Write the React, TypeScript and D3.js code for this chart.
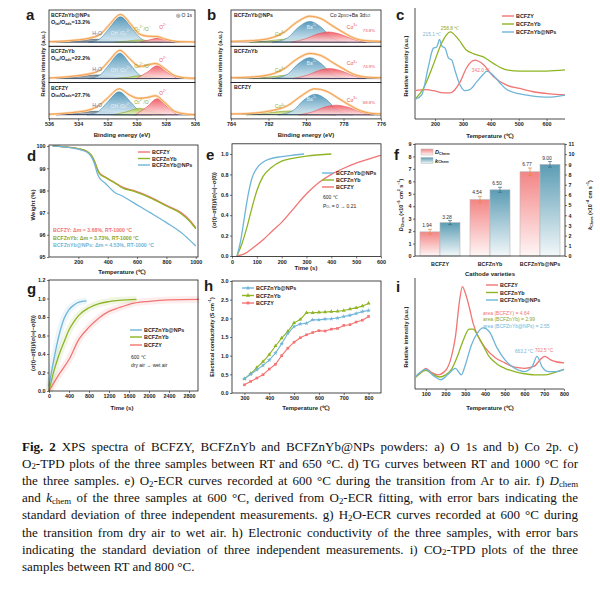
import React, { useEffect, useRef } from "react";
import * as d3 from "d3";

type Pt = [number, number];

const RED = "#f27474";
const GREEN = "#8fb423";
const BLUE = "#6fb5d8";
const INK = "#1c1c1c";
const FONT = "'Liberation Sans', Arial, sans-serif";
const SERIF = "'Liberation Serif', 'Times New Roman', serif";

// ---- a) O 1s XPS (rows top to bottom) ----
const aNames = ["BCFZnYb@NPs", "BCFZnYb", "BCFZY"];
const aRatio = ["13.2%", "22.2%", "27.7%"];
const aTicks = [536, 534, 532, 530, 528, 526];
const aH2O: Pt[][] = [
  [[535.5, 0], [534.5, 0.03], [533.5, 0.08], [532.8, 0.1], [532, 0.08], [531, 0.03], [530, 0]],
  [[535.5, 0], [534.5, 0.04], [533.5, 0.09], [532.7, 0.12], [532, 0.09], [531, 0.03], [530, 0]],
  [[535.5, 0], [534.5, 0.04], [533.5, 0.09], [532.8, 0.12], [532, 0.09], [531, 0.03], [530, 0]],
];
const aOH: Pt[][] = [
  [[533.3, 0], [532.5, 0.12], [531.9, 0.45], [531.1, 0.84], [530.3, 0.45], [529.7, 0.12], [529, 0]],
  [[533.3, 0], [532.5, 0.12], [531.9, 0.45], [531.15, 0.84], [530.4, 0.45], [529.8, 0.12], [529, 0]],
  [[533.4, 0], [532.6, 0.12], [532, 0.42], [531.2, 0.76], [530.4, 0.42], [529.8, 0.12], [529, 0]],
];
const aPer: Pt[][] = [
  [[531.5, 0], [530.6, 0.04], [529.8, 0.08], [529, 0.04], [528.2, 0]],
  [[531.5, 0], [530.5, 0.05], [529.7, 0.1], [528.9, 0.05], [528.2, 0]],
  [[531.6, 0], [530.7, 0.1], [529.8, 0.22], [528.9, 0.1], [528.1, 0]],
];
const aLat: Pt[][] = [
  [[529.8, 0], [529.2, 0.07], [528.6, 0.13], [528, 0.07], [527.4, 0]],
  [[530, 0], [529.3, 0.2], [528.6, 0.42], [527.9, 0.2], [527.2, 0]],
  [[530.1, 0], [529.3, 0.26], [528.6, 0.53], [527.9, 0.26], [527.2, 0]],
];
const aEnv: Pt[][] = [
  [[536, 0.02], [535, 0.04], [534, 0.08], [533.2, 0.14], [532.5, 0.26], [531.9, 0.56], [531.1, 0.92], [530.4, 0.6], [529.8, 0.27], [529.2, 0.2], [528.6, 0.19], [528, 0.1], [527.3, 0.03], [526, 0.01]],
  [[536, 0.02], [535, 0.05], [534, 0.1], [533.2, 0.16], [532.5, 0.28], [531.9, 0.58], [531.15, 0.93], [530.4, 0.62], [529.8, 0.4], [529.3, 0.44], [528.7, 0.5], [528.1, 0.34], [527.4, 0.1], [526.5, 0.02], [526, 0.01]],
  [[536, 0.02], [535, 0.05], [534, 0.1], [533.2, 0.17], [532.6, 0.3], [532, 0.55], [531.2, 0.86], [530.5, 0.66], [529.9, 0.55], [529.3, 0.57], [528.7, 0.63], [528.1, 0.42], [527.4, 0.12], [526.5, 0.02], [526, 0.01]],
];

// ---- b) Co 2p XPS ----
const bTicks = [784, 782, 780, 778, 776];
const bCo3Pct = ["73.8%", "74.9%", "68.8%"];
const bCo4: Pt[][] = [
  [[783, 0], [782, 0.05], [781.2, 0.1], [780.5, 0.12], [779.8, 0.08], [779, 0.03], [778.2, 0]],
  [[783, 0], [782, 0.05], [781.3, 0.1], [780.7, 0.12], [780, 0.08], [779.2, 0.03], [778.4, 0]],
  [[783.2, 0], [782.2, 0.05], [781.4, 0.11], [780.75, 0.13], [780, 0.08], [779.2, 0.03], [778.4, 0]],
];
const bBa: Pt[][] = [
  [[781.8, 0], [781, 0.14], [780.4, 0.5], [779.8, 0.69], [779.2, 0.5], [778.6, 0.14], [777.8, 0]],
  [[781.8, 0], [781, 0.14], [780.4, 0.5], [779.8, 0.69], [779.2, 0.5], [778.6, 0.14], [777.8, 0]],
  [[781.5, 0], [780.7, 0.14], [780.1, 0.5], [779.5, 0.68], [778.9, 0.5], [778.3, 0.14], [777.5, 0]],
];
const bCo3: Pt[][] = [
  [[780.8, 0], [780, 0.12], [779.4, 0.27], [778.8, 0.34], [778.2, 0.27], [777.5, 0.1], [776.8, 0]],
  [[780.7, 0], [779.9, 0.12], [779.3, 0.27], [778.75, 0.33], [778.2, 0.27], [777.5, 0.1], [776.8, 0]],
  [[780.4, 0], [779.6, 0.11], [779, 0.26], [778.4, 0.32], [777.8, 0.26], [777.1, 0.1], [776.4, 0]],
];
const bEnv: Pt[][] = [
  [[784, 0.03], [783, 0.05], [782, 0.12], [781.2, 0.32], [780.5, 0.66], [779.8, 0.86], [779.2, 0.78], [778.6, 0.55], [778, 0.32], [777.4, 0.13], [776.8, 0.05], [776, 0.03]],
  [[784, 0.03], [783, 0.05], [782, 0.12], [781.2, 0.31], [780.5, 0.64], [779.8, 0.83], [779.2, 0.76], [778.6, 0.54], [778, 0.32], [777.4, 0.13], [776.8, 0.05], [776, 0.03]],
  [[784, 0.03], [783, 0.05], [782, 0.12], [781, 0.3], [780.2, 0.65], [779.55, 0.86], [778.9, 0.78], [778.3, 0.56], [777.7, 0.33], [777.1, 0.14], [776.5, 0.05], [776, 0.03]],
];

// ---- c) O2-TPD ----
const cRed: Pt[] = [[128, 0.26], [170, 0.27], [194, 0.26], [230, 0.24], [254, 0.24], [290, 0.34], [313, 0.47], [343, 0.54], [373, 0.5], [409, 0.39], [457, 0.31], [504, 0.28], [552, 0.25], [612, 0.23], [666, 0.22]];
const cGreen: Pt[] = [[128, 0.18], [158, 0.28], [194, 0.5], [224, 0.7], [254, 0.8], [284, 0.73], [313, 0.63], [337, 0.6], [373, 0.57], [409, 0.51], [457, 0.45], [504, 0.44], [600, 0.44], [666, 0.45]];
const cBlue: Pt[] = [[128, 0.18], [152, 0.22], [176, 0.48], [194, 0.65], [206, 0.66], [216, 0.73], [224, 0.67], [236, 0.65], [248, 0.56], [260, 0.54], [272, 0.44], [290, 0.31], [307, 0.26], [325, 0.27], [349, 0.34], [373, 0.41], [385, 0.44], [409, 0.4], [433, 0.33], [457, 0.27], [504, 0.23], [552, 0.21], [600, 0.2], [666, 0.22]];
const cTicks = [200, 300, 400, 500, 600];

// ---- d) TG ----
const dRed: Pt[] = [[25, 100], [100, 99.97], [200, 99.88], [260, 99.75], [290, 99.55], [310, 99.3], [330, 98.95], [345, 98.78], [380, 98.62], [450, 98.35], [500, 98.15], [575, 98.0], [690, 97.7], [800, 97.33], [900, 97.0], [960, 96.65], [1000, 96.32]];
const dGreen: Pt[] = [[25, 100], [100, 99.97], [200, 99.88], [260, 99.76], [290, 99.58], [310, 99.32], [330, 98.95], [345, 98.75], [380, 98.6], [450, 98.33], [500, 98.12], [575, 97.97], [690, 97.67], [800, 97.3], [900, 96.95], [960, 96.6], [1000, 96.27]];
const dBlue: Pt[] = [[25, 100], [100, 99.97], [200, 99.86], [260, 99.72], [290, 99.5], [310, 99.2], [330, 98.75], [345, 98.55], [380, 98.35], [450, 97.9], [500, 97.75], [575, 97.45], [690, 97.0], [800, 96.55], [900, 96.1], [960, 95.75], [1000, 95.5]];
const dLoss = ["3.68%", "3.73%", "4.53%"];

// ---- e) O2-ECR ----
const eBlue: Pt[] = [[20, 0], [35, 0.15], [50, 0.38], [65, 0.6], [80, 0.76], [100, 0.86], [125, 0.92], [150, 0.95], [200, 0.975], [250, 0.99], [290, 1.0]];
const eGreen: Pt[] = [[20, 0], [40, 0.12], [60, 0.28], [80, 0.47], [100, 0.64], [125, 0.78], [160, 0.87], [200, 0.93], [250, 0.96], [300, 0.98], [400, 1.0]];
const eRed: Pt[] = [[20, 0], [50, 0.02], [90, 0.09], [130, 0.17], [160, 0.24], [200, 0.33], [250, 0.47], [300, 0.61], [350, 0.72], [400, 0.8], [450, 0.86], [500, 0.91], [550, 0.95], [600, 0.99]];

// ---- f) Dchem / kchem ----
const fCats = ["BCFZY", "BCFZnYb", "BCFZnYb@NPs"];
const fD = [1.94, 4.54, 6.77];
const fDErr = [0.2, 0.25, 0.3];
const fK = [3.28, 6.5, 9.0];
const fKErr = [0.2, 0.25, 0.28];

// ---- g) H2O-ECR ----
const gBlue: Pt[] = [[0, 0.05], [100, 0.35], [200, 0.6], [300, 0.78], [400, 0.88], [500, 0.93], [600, 0.96], [750, 0.975]];
const gGreen: Pt[] = [[0, 0], [100, 0.22], [200, 0.39], [300, 0.53], [400, 0.66], [500, 0.75], [600, 0.82], [800, 0.9], [1000, 0.945], [1200, 0.967], [1400, 0.98], [1750, 0.99]];
const gRed: Pt[] = [[0, 0], [200, 0.18], [400, 0.34], [600, 0.56], [800, 0.69], [1000, 0.79], [1200, 0.86], [1400, 0.9], [1700, 0.95], [2000, 0.97], [2400, 0.985], [3000, 0.99]];

// ---- h) conductivity ----
const hT = [300, 325, 350, 375, 400, 425, 450, 475, 500, 525, 550, 575, 600, 625, 650, 675, 700, 725, 750, 775, 800];
const hBlue = [0.38, 0.5, 0.62, 0.74, 0.88, 1.07, 1.32, 1.6, 1.78, 1.85, 1.87, 1.96, 1.96, 1.98, 1.99, 2.01, 2.05, 2.08, 2.13, 2.18, 2.21];
const hGreen = [0.38, 0.52, 0.68, 0.84, 1.03, 1.26, 1.47, 1.65, 1.88, 1.97, 2.15, 2.15, 2.16, 2.17, 2.18, 2.19, 2.21, 2.25, 2.28, 2.33, 2.4];
const hRed = [0.22, 0.31, 0.4, 0.49, 0.64, 0.77, 1.0, 1.2, 1.36, 1.48, 1.56, 1.62, 1.67, 1.66, 1.71, 1.73, 1.81, 1.83, 1.9, 1.95, 2.05];

// ---- i) CO2-TPD ----
const iRed: Pt[] = [[45, 0.11], [75, 0.15], [100, 0.19], [130, 0.15], [160, 0.13], [200, 0.17], [230, 0.3], [250, 0.48], [270, 0.8], [285, 0.94], [300, 0.88], [320, 0.75], [340, 0.6], [360, 0.5], [400, 0.38], [450, 0.29], [500, 0.24], [550, 0.2], [600, 0.19], [650, 0.21], [680, 0.27], [703, 0.3], [730, 0.27], [760, 0.25], [800, 0.24]];
const iGreen: Pt[] = [[45, 0.1], [100, 0.17], [130, 0.14], [170, 0.11], [200, 0.13], [230, 0.18], [260, 0.3], [290, 0.45], [320, 0.55], [340, 0.55], [360, 0.5], [390, 0.4], [420, 0.3], [460, 0.23], [500, 0.19], [550, 0.16], [600, 0.14], [650, 0.13], [700, 0.13], [750, 0.15], [800, 0.18]];
const iBlue: Pt[] = [[45, 0.11], [100, 0.18], [140, 0.12], [175, 0.085], [210, 0.13], [250, 0.19], [280, 0.13], [300, 0.22], [330, 0.4], [360, 0.51], [390, 0.56], [420, 0.53], [460, 0.38], [500, 0.27], [550, 0.19], [600, 0.16], [640, 0.21], [663, 0.3], [690, 0.2], [720, 0.16], [760, 0.16], [800, 0.18]];
const iArea = ["4.64", "2.99", "2.55"];

type Seg = [string, string?, boolean?];

const caption: Seg[][] = [
  [["Fig. 2", "b"], [" XPS spectra of BCFZY, BCFZnYb and BCFZnYb@NPs powders: a) O 1s and b) Co 2p. c)"]],
  [["O"], ["2", "sub"], ["-TPD plots of the three samples between RT and 650 °C. d) TG curves between RT and 1000 °C for"]],
  [["the three samples. e) O"], ["2", "sub"], ["-ECR curves recorded at 600 °C during the transition from Ar to air. f) "], ["D", "", true], ["chem", "sub"]],
  [["and "], ["k", "", true], ["chem", "sub"], [" of the three samples at 600 °C, derived from O"], ["2", "sub"], ["-ECR fitting, with error bars indicating the"]],
  [["standard deviation of three independent measurements. g) H"], ["2", "sub"], ["O-ECR curves recorded at 600 °C during"]],
  [["the transition from dry air to wet air. h) Electronic conductivity of the three samples, with error bars"]],
  [["indicating the standard deviation of three independent measurements. i) CO"], ["2", "sub"], ["-TPD plots of the three"]],
  [["samples between RT and 800 °C."]],
];

function rich(g: any, x: number, y: number, segs: Seg[], size: number, o: any = {}) {
  const t = g.append("text").attr("x", x).attr("y", y).attr("font-size", size)
    .attr("font-family", o.family ?? FONT).attr("font-weight", o.weight ?? "bold")
    .attr("fill", o.fill ?? INK).attr("text-anchor", o.anchor ?? "start")
    .attr("dominant-baseline", "central");
  if (o.rotate) t.attr("transform", `rotate(${o.rotate},${x},${y})`);
  let cur = 0;
  segs.forEach(([s, k, it]) => {
    const target = k === "sub" ? size * 0.28 : k === "sup" ? -size * 0.38 : 0;
    const ts = t.append("tspan").attr("dy", target - cur).text(s);
    if (k === "sub" || k === "sup") ts.attr("font-size", size * 0.68);
    if (k === "b") ts.attr("font-weight", "bold");
    if (it) ts.attr("font-style", "italic");
    cur = target;
  });
  return t;
}

function txt(g: any, x: number, y: number, s: string, size: number, o: any = {}) {
  return rich(g, x, y, [[s]], size, o);
}

function frame(g: any, x0: number, y0: number, x1: number, y1: number) {
  g.append("rect").attr("x", x0).attr("y", y0).attr("width", x1 - x0).attr("height", y1 - y0)
    .attr("fill", "none").attr("stroke", INK).attr("stroke-width", 0.8);
}

function axis(g: any, scale: any, orient: string, x: number, y: number, ticks: number[], fmt?: (d: number) => string) {
  const gen = orient === "bottom" ? d3.axisBottom(scale) : orient === "left" ? d3.axisLeft(scale) : d3.axisRight(scale);
  gen.tickValues(ticks).tickSize(2).tickPadding(1.5).tickFormat((d: any) => (fmt ? fmt(d) : String(d)));
  const a = g.append("g").attr("transform", `translate(${x},${y})`).call(gen);
  a.select(".domain").remove();
  a.attr("font-size", 5.4).attr("font-family", FONT).attr("font-weight", "bold");
  a.selectAll("text").attr("fill", INK);
  a.selectAll("line").attr("stroke", INK).attr("stroke-width", 0.6);
}

function curve(g: any, x: any, y: any, pts: Pt[], color: string, w = 1.2, op = 1) {
  g.append("path").datum(pts)
    .attr("d", d3.line<Pt>().x((d) => x(d[0])).y((d) => y(d[1])).curve(d3.curveMonotoneX))
    .attr("fill", "none").attr("stroke", color).attr("stroke-width", w).attr("stroke-opacity", op)
    .attr("stroke-linejoin", "round");
}

function fillPeak(g: any, x: any, y: any, pts: Pt[], grad: string, stroke: string) {
  g.append("path").datum(pts)
    .attr("d", d3.area<Pt>().x((d) => x(d[0])).y0(y(0)).y1((d) => y(d[1])).curve(d3.curveMonotoneX))
    .attr("fill", `url(#${grad})`).attr("stroke", stroke).attr("stroke-width", 0.6);
}

function legend(g: any, x: number, ys: number[], names: string[], colors: string[], size = 5.6) {
  names.forEach((n, i) => {
    g.append("line").attr("x1", x).attr("x2", x + 12).attr("y1", ys[i]).attr("y2", ys[i])
      .attr("stroke", colors[i]).attr("stroke-width", 1.4);
    txt(g, x + 14, ys[i], n, size);
  });
}

function yTitle(g: any, x: number, y: number, segs: Seg[], size = 6) {
  rich(g, x, y, segs, size, { anchor: "middle", rotate: -90 });
}

function gradients(svg: any) {
  const defs = svg.append("defs");
  const mk = (id: string, top: string, bot: string, o1 = 1, o2 = 1) => {
    const lg = defs.append("linearGradient").attr("id", id).attr("x1", 0).attr("y1", 0).attr("x2", 0).attr("y2", 1);
    lg.append("stop").attr("offset", "0%").attr("stop-color", top).attr("stop-opacity", o1);
    lg.append("stop").attr("offset", "100%").attr("stop-color", bot).attr("stop-opacity", o2);
  };
  mk("gBlue", "#4f94b8", "#d6e9f2", 0.95, 0.9);
  mk("gRed", "#f0525c", "#fde0e0", 0.9, 0.85);
  mk("gGreen", "#a9c23a", "#eef3d0", 0.9, 0.85);
  mk("gGray", "#5f6b76", "#d5dade", 0.9, 0.85);
  mk("barRed", "#f38585", "#fff6f6");
  mk("barBlue", "#5b9cb4", "#f3f8fa");
}

function xpsPanel(g: any, xs: any, top: number, h: number, comps: [Pt[], string, string][], env: Pt[]) {
  const y = d3.scaleLinear().domain([0, 1]).range([top + h - 4, top + 2]);
  comps.forEach(([pts, grad, stroke]) => fillPeak(g, xs, y, pts, grad, stroke));
  const [d0, d1] = xs.domain();
  g.append("line").attr("x1", xs(d0)).attr("x2", xs(d1)).attr("y1", y(0.015)).attr("y2", y(0))
    .attr("stroke", "#2f3e5c").attr("stroke-width", 0.9);
  curve(g, xs, y, env, "#fbd3a8", 2.4);
  curve(g, xs, y, env, "#f29a45", 0.9);
  return y;
}

function draw(svg: any) {
  gradients(svg);
  const g = svg.append("g");
  const rowTops = [10, 46.3, 82.6];
  const rowH = 36.3;

  // ---------------- a ----------------
  const xa = d3.scaleLinear().domain([536, 526]).range([49, 195]);
  aNames.forEach((n, i) => {
    const t = rowTops[i];
    const y = xpsPanel(g, xa, t, rowH, [
      [aH2O[i], "gGray", "#55606a"],
      [aOH[i], "gBlue", "#3f86aa"],
      [aPer[i], "gGreen", "#8aa52a"],
      [aLat[i], "gRed", "#e8505a"],
    ], aEnv[i]);
    frame(g, 49, t, 195, t + rowH);
    txt(g, 51, t + 5, n, 5.2);
    rich(g, 51, t + 12, [["O"], ["lat", "sub"], ["/O"], ["ads", "sub"], ["=" + aRatio[i]]], 5.4);
    txt(g, xa(532.7), y(aH2O[i][3][1]) - 6, "H\u2082O", 5.2, { fill: "#3f86aa", anchor: "middle", weight: "normal" });
    rich(g, xa(531.1), y(0.3), [["OH"], ["\u2212", "sup"], ["/O"], ["2", "sub"], ["2\u2212", "sup"]], 4.8, { fill: "#e6f2f8", anchor: "middle", weight: "normal" });
    rich(g, xa(529.6), y(Math.max(aPer[i][2][1], 0.3)) - 4, [["O"], ["2", "sub"], ["2\u2212", "sup"], ["/O"], ["\u2212", "sup"]], 4.8, { fill: "#8aa52a", anchor: "middle", weight: "normal" });
    rich(g, xa(528.2), y(Math.max(aLat[i][2][1], 0.3)) - 6, [["O"], ["2\u2212", "sup"]], 4.8, { fill: "#e8505a", anchor: "middle", weight: "normal" });
  });
  txt(g, 176, 15, "\u25CE O 1s", 5, { weight: "normal" });
  axis(g, xa, "bottom", 0, 118.9, aTicks);
  txt(g, 122, 135, "Binding energy (eV)", 6, { anchor: "middle" });
  yTitle(g, 43, 64, [["Relative intensity (a.u.)"]]);
  txt(g, 26, 14, "a", 15);

  // ---------------- b ----------------
  const xb = d3.scaleLinear().domain([784, 776]).range([231, 381]);
  aNames.forEach((n, i) => {
    const t = rowTops[i];
    const y = xpsPanel(g, xb, t, rowH, [
      [bCo4[i], "gGreen", "#8aa52a"],
      [bBa[i], "gBlue", "#3f86aa"],
      [bCo3[i], "gRed", "#e8505a"],
    ], bEnv[i]);
    frame(g, 231, t, 381, t + rowH);
    txt(g, 234, t + 4.5, n, 5.2);
    rich(g, 280, y(0.28), [["Co"], ["4+", "sup"]], 4.8, { fill: "#8aa52a", anchor: "middle", weight: "normal" });
    rich(g, xb(779.7), y(0.52), [["Ba"], ["2+", "sup"]], 4.8, { fill: "#e6f2f8", anchor: "middle", weight: "normal" });
    rich(g, 352, y(0.5), [["Co"], ["3+", "sup"]], 5, { fill: "#e8505a", anchor: "middle", weight: "normal" });
    txt(g, 369, y(0.42), bCo3Pct[i], 4.4, { fill: "#e8505a", anchor: "middle", weight: "normal" });
  });
  rich(g, 350, 15, [["Co 2p"], ["3/2", "sub"], ["+Ba 3d"], ["5/2", "sub"]], 5.2, { anchor: "middle", weight: "normal" });
  axis(g, xb, "bottom", 0, 118.9, bTicks);
  txt(g, 306, 135, "Binding energy (eV)", 6, { anchor: "middle" });
  yTitle(g, 220, 64, [["Relative intensity (a.u.)"]]);
  txt(g, 207, 14, "b", 15);

  // ---------------- c ----------------
  const xc = d3.scaleLinear().domain([128, 666]).range([415, 565]);
  const yc = d3.scaleLinear().domain([0, 1]).range([119, 10]);
  g.append("line").attr("x1", 415).attr("x2", 415).attr("y1", 8).attr("y2", 119).attr("stroke", INK).attr("stroke-width", 0.8);
  g.append("line").attr("x1", 415).attr("x2", 565).attr("y1", 119).attr("y2", 119).attr("stroke", INK).attr("stroke-width", 0.8);
  curve(g, xc, yc, cRed, RED, 1.3);
  curve(g, xc, yc, cGreen, GREEN, 1.3);
  curve(g, xc, yc, cBlue, BLUE, 1.3);
  axis(g, xc, "bottom", 0, 119, cTicks);
  txt(g, 432, 34, "215.1 \u2103", 4.8, { fill: BLUE, anchor: "middle", weight: "normal" });
  txt(g, 450, 28, "258.8 \u2103", 4.8, { fill: "#8aa52a", anchor: "middle", weight: "normal" });
  txt(g, 481, 70, "342.0 \u2103", 4.8, { fill: RED, anchor: "middle", weight: "normal" });
  legend(g, 502, [16, 24, 32], ["BCFZY", "BCFZnYb", "BCFZnYb@NPs"], [RED, GREEN, BLUE], 5.4);
  txt(g, 490, 136, "Temperature (\u2103)", 6, { anchor: "middle" });
  yTitle(g, 406, 66, [["Relative intensity (a.u.)"]], 5.6);
  txt(g, 396, 14, "c", 15);

  // ---------------- d ----------------
  const xd = d3.scaleLinear().domain([0, 1015]).range([49, 198]);
  const yd = d3.scaleLinear().domain([95, 100.05]).range([257, 145]);
  curve(g, xd, yd, dRed, RED, 1.3);
  curve(g, xd, yd, dGreen, GREEN, 1.3);
  curve(g, xd, yd, dBlue, BLUE, 1.3);
  frame(g, 49, 145, 198, 257);
  axis(g, xd, "bottom", 0, 257, [200, 400, 600, 800, 1000]);
  axis(g, yd, "left", 49, 0, [95, 96, 97, 98, 99, 100]);
  legend(g, 138, [152, 158.5, 165], ["BCFZY", "BCFZnYb", "BCFZnYb@NPs"], [RED, GREEN, BLUE], 5.4);
  const dNames = ["BCFZY", "BCFZnYb", "BCFZnYb@NPs"];
  const dCols = [RED, "#8aa52a", BLUE];
  dNames.forEach((n, i) => txt(g, 53, 230 + i * 7.5, `${n}: \u0394m = ${dLoss[i]}, RT-1000 \u00B0C`, 5.2, { fill: dCols[i] }));
  txt(g, 122, 272, "Temperature (\u2103)", 6, { anchor: "middle" });
  yTitle(g, 33, 205, [["Weight (%)"]]);
  txt(g, 27, 155, "d", 15);

  // ---------------- e ----------------
  const xe = d3.scaleLinear().domain([0, 600]).range([232, 381]);
  const ye = d3.scaleLinear().domain([0, 1.1]).range([256, 143.8]);
  curve(g, xe, ye, eRed, RED, 1.3);
  curve(g, xe, ye, eGreen, GREEN, 1.3);
  curve(g, xe, ye, eBlue, BLUE, 1.3);
  frame(g, 232, 143.8, 381, 256.5);
  axis(g, xe, "bottom", 0, 256.5, [0, 100, 200, 300, 400, 500, 600]);
  axis(g, ye, "left", 232, 0, [0, 0.2, 0.4, 0.6, 0.8, 1.0], d3.format(".1f"));
  legend(g, 322, [173, 180, 187], ["BCFZnYb@NPs", "BCFZnYb", "BCFZY"], [BLUE, GREEN, RED], 5.4);
  txt(g, 323, 197, "600 \u2103", 5, { weight: "normal" });
  rich(g, 323, 206, [["P"], ["O\u2082", "sub"], [" = 0 \u2192 0.21"]], 5, { weight: "normal" });
  txt(g, 306, 268, "Time (s)", 6, { anchor: "middle" });
  yTitle(g, 214, 200, [["(\u03C3(t)\u2212\u03C3(0))/(\u03C3(\u221E)\u2212\u03C3(0))"]], 5.4);
  txt(g, 206, 154, "e", 15);

  // ---------------- f ----------------
  const xf = d3.scaleBand().domain(fCats).range([415, 565]);
  const sub = d3.scaleBand().domain(["D", "k"]).range([0, 40]);
  const yfL = d3.scaleLinear().domain([0, 9]).range([256, 144]);
  const yfR = d3.scaleLinear().domain([0, 11]).range([256, 144]);
  fCats.forEach((c, i) => {
    const x0 = (xf(c) as number) + xf.bandwidth() / 2 - 20;
    const bars: [string, number, number, any, string, string][] = [
      ["D", fD[i], fDErr[i], yfL, "barRed", "#e6883e"],
      ["k", fK[i], fKErr[i], yfR, "barBlue", "#3f6f82"],
    ];
    bars.forEach(([key, v, e, ys, fill, ec]) => {
      const bx = x0 + (sub(key) as number);
      const bw = sub.bandwidth();
      g.append("rect").attr("x", bx).attr("y", ys(v)).attr("width", bw).attr("height", ys(0) - ys(v))
        .attr("fill", `url(#${fill})`).attr("stroke", "#b9b9b9").attr("stroke-width", 0.6);
      const cx = bx + bw / 2;
      g.append("line").attr("x1", cx).attr("x2", cx).attr("y1", ys(v - e)).attr("y2", ys(v + e)).attr("stroke", ec).attr("stroke-width", 0.7);
      [v - e, v + e].forEach((vv) => g.append("line").attr("x1", cx - 2).attr("x2", cx + 2).attr("y1", ys(vv)).attr("y2", ys(vv)).attr("stroke", ec).attr("stroke-width", 0.7));
      txt(g, cx - 3, ys(v + e) - 4, v.toFixed(2), 5, { anchor: "middle", fill: "#333", weight: "normal" });
    });
  });
  frame(g, 415, 144, 565, 256);
  axis(g, xf, "bottom", 0, 256, [] as any);
  fCats.forEach((c) => txt(g, (xf(c) as number) + 25, 263.5, c, 5.4, { anchor: "middle" }));
  axis(g, yfL, "left", 415, 0, d3.range(0, 10));
  axis(g, yfR, "right", 565, 0, d3.range(0, 12));
  g.append("rect").attr("x", 421).attr("y", 149).attr("width", 12).attr("height", 6).attr("fill", "url(#barRed)").attr("stroke", "#b9b9b9").attr("stroke-width", 0.5);
  g.append("rect").attr("x", 421).attr("y", 157.5).attr("width", 12).attr("height", 6).attr("fill", "url(#barBlue)").attr("stroke", "#b9b9b9").attr("stroke-width", 0.5);
  rich(g, 435, 152, [["D", "", true], ["Chem", "sub"]], 5.6);
  rich(g, 435, 160.5, [["k", "", true], ["Chem", "sub"]], 5.6);
  txt(g, 490, 274, "Cathode varieties", 6, { anchor: "middle" });
  yTitle(g, 401, 205, [["D", "", true], ["Chem", "sub"], [" (\u00D710"], ["\u22126", "sup"], [" cm"], ["2", "sup"], [" s"], ["\u22121", "sup"], [")"]], 5.4);
  yTitle(g, 590, 205, [["k", "", true], ["Chem", "sub"], [" (\u00D710"], ["\u22124", "sup"], [" cm s"], ["\u22121", "sup"], [")"]], 5.4);
  txt(g, 394, 154, "f", 15);

  // ---------------- g ----------------
  const xg = d3.scaleLinear().domain([0, 2980]).range([49, 198]);
  const yg = d3.scaleLinear().domain([0, 1.2]).range([391, 280]);
  // faint bands standing in for the noisy raw points
  curve(g, xg, yg, gRed, RED, 7, 0.12);
  curve(g, xg, yg, gGreen, GREEN, 7, 0.12);
  curve(g, xg, yg, gBlue, BLUE, 7, 0.12);
  curve(g, xg, yg, gRed, RED, 1.3);
  curve(g, xg, yg, gGreen, GREEN, 1.3);
  curve(g, xg, yg, gBlue, BLUE, 1.3);
  frame(g, 49, 280, 198, 391);
  axis(g, xg, "bottom", 0, 391, [0, 400, 800, 1200, 1600, 2000, 2400, 2800]);
  axis(g, yg, "left", 49, 0, [0, 0.2, 0.4, 0.6, 0.8, 1.0, 1.2], d3.format(".1f"));
  legend(g, 130, [330, 337, 345], ["BCFZnYb@NPs", "BCFZnYb", "BCFZY"], [BLUE, GREEN, RED], 5.4);
  txt(g, 131, 357, "600 \u2103", 5, { weight: "normal" });
  txt(g, 131, 365, "dry air \u2192 wet air", 5, { weight: "normal" });
  txt(g, 122, 408, "Time (s)", 6, { anchor: "middle" });
  yTitle(g, 33, 343, [["(\u03C3(t)\u2212\u03C3(0))/(\u03C3(\u221E)\u2212\u03C3(0))"]], 5.4);
  txt(g, 27, 288, "g", 15);

  // ---------------- h ----------------
  const xh = d3.scaleLinear().domain([250, 850]).range([232, 381]);
  const yh = d3.scaleLinear().domain([0, 3]).range([393, 281]);
  const hSeries: [number[], string, any][] = [
    [hRed, RED, d3.symbolSquare],
    [hGreen, GREEN, d3.symbolTriangle],
    [hBlue, BLUE, d3.symbolStar],
  ];
  hSeries.forEach(([vals, col, sym]) => {
    const pts: Pt[] = hT.map((t, i) => [t, vals[i]]);
    g.append("path").datum(pts).attr("d", d3.line<Pt>().x((d) => xh(d[0])).y((d) => yh(d[1])))
      .attr("fill", "none").attr("stroke", col).attr("stroke-width", 1.1);
    g.selectAll(null).data(pts).enter().append("path")
      .attr("transform", (d: Pt) => `translate(${xh(d[0])},${yh(d[1])})`)
      .attr("d", d3.symbol().type(sym).size(7)()).attr("fill", col);
  });
  frame(g, 232, 281, 381, 393);
  axis(g, xh, "bottom", 0, 393, [300, 400, 500, 600, 700, 800]);
  axis(g, yh, "left", 232, 0, [0, 0.5, 1, 1.5, 2, 2.5, 3], d3.format(".1f"));
  const hLeg = [288, 295.5, 303];
  legend(g, 242, hLeg, ["BCFZnYb@NPs", "BCFZnYb", "BCFZY"], [BLUE, GREEN, RED], 5.4);
  [d3.symbolStar, d3.symbolTriangle, d3.symbolSquare].forEach((s, i) => {
    g.append("path").attr("transform", `translate(248,${hLeg[i]})`).attr("d", d3.symbol().type(s).size(8)())
      .attr("fill", [BLUE, GREEN, RED][i]);
  });
  txt(g, 306, 408, "Temperature (\u2103)", 6, { anchor: "middle" });
  yTitle(g, 212, 337, [["Electrical conductivity (S cm"], ["\u22121", "sup"], [")"]], 5.4);
  txt(g, 204, 285, "h", 15);

  // ---------------- i ----------------
  const xi = d3.scaleLinear().domain([45, 800]).range([415, 564]);
  const yi = d3.scaleLinear().domain([0, 1]).range([389, 280]);
  g.append("line").attr("x1", 415).attr("x2", 415).attr("y1", 278).attr("y2", 389).attr("stroke", INK).attr("stroke-width", 0.8);
  g.append("line").attr("x1", 415).attr("x2", 564).attr("y1", 389).attr("y2", 389).attr("stroke", INK).attr("stroke-width", 0.8);
  curve(g, xi, yi, iRed, RED, 1.3);
  curve(g, xi, yi, iGreen, GREEN, 1.3);
  curve(g, xi, yi, iBlue, BLUE, 1.3);
  axis(g, xi, "bottom", 0, 389, [100, 200, 300, 400, 500, 600, 700, 800]);
  legend(g, 486, [285, 292.5, 300], ["BCFZY", "BCFZnYb", "BCFZnYb@NPs"], [RED, GREEN, BLUE], 5.4);
  const iNames = ["BCFZY", "BCFZnYb", "BCFZnYb@NPs"];
  const iCols = [RED, "#8aa52a", BLUE];
  iNames.forEach((n, i) => txt(g, 483, 312.5 + i * 6.7, `area (${n}) = ${iArea[i]}`, 5, { fill: iCols[i], weight: "normal" }));
  txt(g, 524, 351, "663.2 \u00B0C", 4.6, { fill: BLUE, anchor: "middle", weight: "normal" });
  txt(g, 544, 350, "702.5 \u00B0C", 4.6, { fill: RED, anchor: "middle", weight: "normal" });
  txt(g, 490, 408, "Temperature (\u2103)", 6, { anchor: "middle" });
  yTitle(g, 406, 337, [["Relative intensity (a.u.)"]], 5.6);
  txt(g, 396, 286, "i", 15);

  // ---------------- caption ----------------
  const left = 22, right = 578;
  caption.forEach((segs, i) => {
    const t = rich(g, left, 445.5 + i * 17.2, segs, 13, { family: SERIF, weight: "normal", fill: "#111" });
    if (i < caption.length - 1) {
      const node = t.node() as SVGTextElement;
      const len = node.getComputedTextLength();
      const spaces = segs.map((s) => s[0]).join("").split(" ").length - 1;
      if (spaces > 0) t.attr("word-spacing", (right - left - len) / spaces);
    }
  });
}

export default function App() {
  const ref = useRef<SVGSVGElement>(null);
  useEffect(() => {
    const svg = d3.select(ref.current);
    svg.selectAll("*").remove();
    draw(svg);
  }, []);
  return (
    <svg ref={ref} width={600} height={600}
      style={{ position: "absolute", left: 0, top: 0, background: "#fff" }} />
  );
}
